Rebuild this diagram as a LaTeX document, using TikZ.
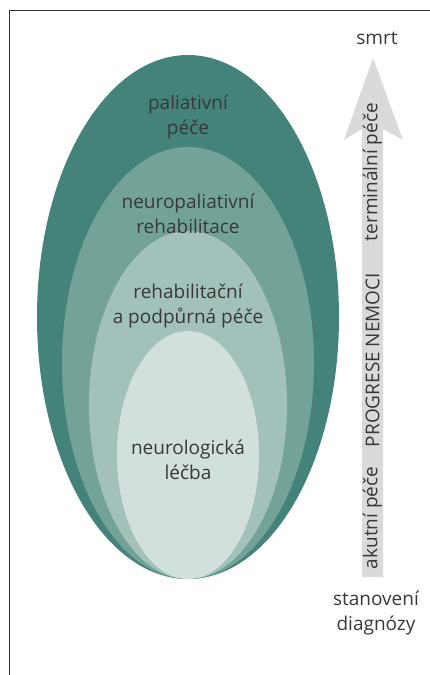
\documentclass[tikz,border=0pt]{standalone}
\usepackage{fontspec}
\setmainfont{Open Sans}
\usetikzlibrary{shapes.geometric, positioning}
\definecolor{tealdark}{HTML}{44837A}
\definecolor{tealmid}{HTML}{73A398}
\definecolor{teallight}{HTML}{A3C1BB}
\definecolor{tealpale}{HTML}{D1E0DC}
\definecolor{arrowgray}{HTML}{D9DADB}
\definecolor{txtgray}{HTML}{383838}
\definecolor{framegray}{HTML}{333333}

\begin{document}
\begin{tikzpicture}[x=1pt, y=-1pt,
   layer/.style={ellipse, inner sep=0pt, outer sep=0pt, draw=none},
   lbl/.style={align=center, text=txtgray, font=\fontsize{19}{25}\selectfont},
   vlbl/.style={rotate=90, text=txtgray, inner sep=0pt, font=\fontsize{19}{23}\selectfont}]
   \useasboundingbox (0,0) rectangle (430,675);

   % ramecek
   \draw[framegray, line width=0.9pt] (430,10.5) -- (9.5,10.5) -- (9.5,675);

   % vrstvy peče (elipsy dotykajici se dole)
   \node[layer, fill=tealdark,  minimum width=302pt, minimum height=524pt] (e_pal)   at (188,317) {};
   \node[layer, fill=tealmid,   minimum width=252pt, minimum height=432pt] (e_npal)  at (188,363) {};
   \node[layer, fill=teallight, minimum width=198pt, minimum height=348pt] (e_rehab) at (188,405) {};
   \node[layer, fill=tealpale,  minimum width=142pt, minimum height=248pt] (e_neuro) at (188,455) {};

   % popisky vrstev
   \node[lbl] (t_pal)   at (188,117) {paliativní\\péče};
   \node[lbl] (t_npal)  at (188,214) {neuropaliativní\\rehabilitace};
   \node[lbl] (t_rehab) at (188,306) {rehabilitační\\a podpůrná péče};
   \node[lbl] (t_neuro) at (188,460) {neurologická\\léčba};

   % sipka progrese nemoci
   \fill[arrowgray] (362,577) -- (362,129) -- (344,140) -- (373,58)
      -- (403,140) -- (383,129) -- (383,577) -- cycle;

   \node[lbl] (smrt) at (377,38) {smrt};
   \node[lbl] (diag) at (376,613) {stanovení\\diagnózy};

   \node[vlbl] (akut) at (372.5,518) {akutní péče};
   \node[vlbl] (prog) at (372.5,360) {PROGRESE NEMOCI};
   \node[vlbl] (term) at (372.5,172) {terminální péče};
\end{tikzpicture}
\end{document}
